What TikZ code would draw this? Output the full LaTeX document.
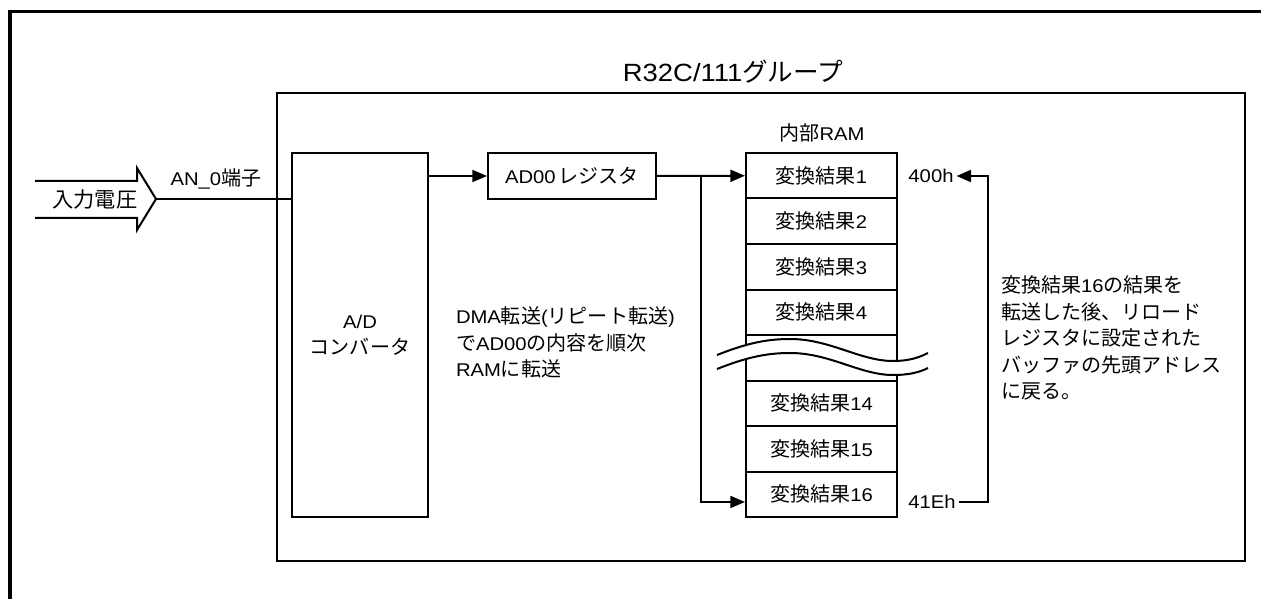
\documentclass[tikz,border=0pt]{standalone}
\usepackage{fontspec}
\setmainfont{Liberation Sans}[FakeStretch=1.1]
\newfontfamily\jp{Noto Sans CJK JP}[Scale=1.09]
\newcommand\jt[1]{{\jp #1}}
\usetikzlibrary{arrows.meta}
\begin{document}
\begin{tikzpicture}[x=0.75pt,y=-0.75pt,line width=1.5pt,
  every node/.style={font=\fontsize{13.8}{19.7}\selectfont, inner sep=1.5pt},
  box/.style={draw, line width=1.5pt},
  ram/.style={box, minimum width={151*0.75pt}, minimum height={45.5*0.75pt}},
  arr/.style={-{Triangle[length=11pt,width=9pt]}}]
\useasboundingbox (0,0) rectangle (1261,599);

% outer frame (left and top only)
\draw[line width=2.6pt] (10,602) -- (10,11.7) -- (1264,11.7);

% group box and title
\node[box, minimum width={968*0.75pt}, minimum height={468*0.75pt}, inner sep=0] (grp) at (761,327) {};
\node (title) at (733,72) {\fontsize{18.7}{21}\selectfont R32C/111\fontsize{17.6}{20}\selectfont\jt{グループ}};

% A/D converter
\node[box, minimum width={136*0.75pt}, minimum height={364*0.75pt}] (ad) at (360,335) {};
\node (adt1) at (360,322) {A/D};
\node (adt2) at (360,347) {\jt{コンバータ}};

% AD00 register
\node[box, minimum width={168*0.75pt}, minimum height={46*0.75pt}] (reg) at (572,176) {AD00\,\jt{レジスタ}};

% internal RAM
\node (ramt) at (822,133) {\jt{内部}RAM};
\node[ram] (r1) at (821.5,175.75) {\jt{変換結果}1};
\node[ram] (r2) at (821.5,221.25) {\jt{変換結果}2};
\node[ram] (r3) at (821.5,266.75) {\jt{変換結果}3};
\node[ram] (r4) at (821.5,312.25) {\jt{変換結果}4};
\node[ram] (rg) at (821.5,357.75) {};
\node[ram] (r14) at (821.5,403.25) {\jt{変換結果}14};
\node[ram] (r15) at (821.5,448.75) {\jt{変換結果}15};
\node[ram] (r16) at (821.5,494.25) {\jt{変換結果}16};

% break mark
\fill[white] (717,355) .. controls (745,344) and (765,339) .. (790,339)
  .. controls (830,339) and (860,361) .. (893,361)
  .. controls (910,361) and (920,357) .. (928,353) -- (928,368)
  .. controls (920,372) and (910,375) .. (893,375)
  .. controls (860,375) and (830,353) .. (790,353)
  .. controls (765,353) and (745,358) .. (717,369) -- cycle;
\draw (717,355) .. controls (745,344) and (765,339) .. (790,339)
  .. controls (830,339) and (860,361) .. (893,361)
  .. controls (910,361) and (920,357) .. (928,353);
\draw (717,369) .. controls (745,358) and (765,353) .. (790,353)
  .. controls (830,353) and (860,375) .. (893,375)
  .. controls (910,375) and (920,372) .. (928,368);

% input
\coordinate (tip) at (156,199);
\draw (35,181) -- (137,181) -- (137,168) -- (tip) -- (137,230) -- (137,218) -- (35,218);
\node (vin) at (95,200) {\fontsize{14.6}{19}\selectfont\jt{入力電圧}};
\node (pin) at (216,179) {AN\_0\jt{端子}};
\draw (tip) -- (tip -| ad.west);

% data path
\draw[arr] (reg.west -| ad.east) -- (reg.west);
\draw[arr] (reg.east) -- (r1.west);
\coordinate (br) at (701,176);
\draw[arr] (br) |- ([yshift=-5.8pt]r16.west);

% addresses and loop back
\node (a400) at (931,176) {400h};
\node (a41) at (932,502) {41Eh};
\coordinate (rx) at (988,340);
\draw[arr] (a41.east) -| (rx) |- (a400.east);

% DMA description
\node[anchor=west] (d1) at (453,317) {DMA\jt{転送}(\jt{リピート転送})};
\node[anchor=west] (d2) at (453,343) {\jt{で}AD00\jt{の内容を順次}};
\node[anchor=west] (d3) at (453,369) {RAM\jt{に転送}};

% reload description
\node[anchor=west] (n1) at (998,285) {\jt{変換結果}16\jt{の結果を}};
\node[anchor=west] (n2) at (998,311.5) {\jt{転送した後、リロード}};
\node[anchor=west] (n3) at (998,338) {\jt{レジスタに設定された}};
\node[anchor=west] (n4) at (998,364.5) {\jt{バッファの先頭アドレス}};
\node[anchor=west] (n5) at (998,391) {\jt{に戻る。}};
\end{tikzpicture}
\end{document}
